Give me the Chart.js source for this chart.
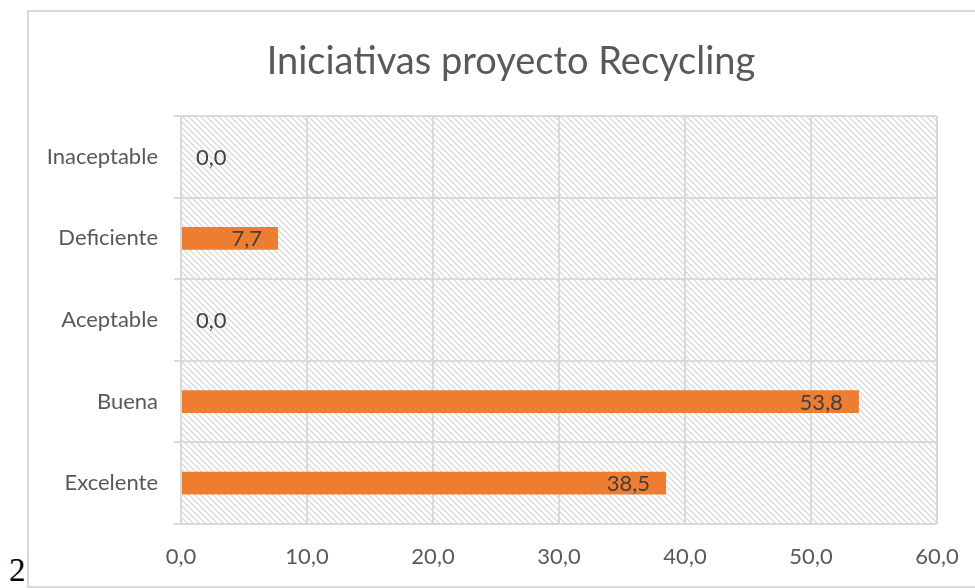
<!DOCTYPE html>
<html>
<head>
<meta charset="utf-8">
<script src="https://cdn.jsdelivr.net/npm/chart.js@4"></script>
<style>
    body { margin: 0; background: #fff; }
    #marco {
        position: absolute; left: 27px; top: 10px;
        width: 960px; height: 574px;
        border: 2px solid #d9d9d9;
    }
    #num {
        position: absolute; left: 9px; top: 554px;
        font-family: "Liberation Serif", "DejaVu Serif", serif; font-size: 33px; color: #000;
        line-height: 1;
    }
    #lienzo { position: absolute; left: 0; top: 0; }
</style>
</head>
<body>
<div id="marco"></div>
<span id="num">2</span>
<canvas id="lienzo" width="975" height="588"></canvas>
<script>
const categorias = ["Inaceptable", "Deficiente", "Aceptable", "Buena", "Excelente"];
const valores = [0.0, 7.7, 0.0, 53.8, 38.5];
const ticksX = [0, 10, 20, 30, 40, 50, 60];

const fuente = "Lato, 'Open Sans', sans-serif";

function crearTrama() {
    const c = document.createElement("canvas");
    c.width = 6;
    c.height = 6;
    const g = c.getContext("2d");
    g.fillStyle = "#fff";
    g.fillRect(0, 0, 6, 6);
    g.strokeStyle = "#d4d4d4";
    g.lineWidth = 1.2;
    g.beginPath();
    g.moveTo(-1, -1); g.lineTo(7, 7);
    g.moveTo(-1, 5); g.lineTo(1, 7);
    g.moveTo(5, -1); g.lineTo(7, 1);
    g.stroke();
    return g.createPattern(c, "repeat");
}

const fondoTrama = {
    id: "fondoTrama",
    afterLayout(chart) {
        // el titulo se centra sobre el marco del grafico, no sobre el lienzo
        if (chart.titleBlock) chart.titleBlock.left = 85;
    },
    beforeDraw(chart) {
        const a = chart.chartArea;
        const ctx = chart.ctx;
        ctx.save();
        ctx.fillStyle = crearTrama();
        ctx.fillRect(a.left, a.top, a.right - a.left, a.bottom - a.top);
        ctx.restore();
    }
};

// etiquetas de datos estilo Excel (extremo interno; los ceros quedan fuera)
const etiquetas = {
    id: "etiquetas",
    afterDatasetsDraw(chart) {
        const ctx = chart.ctx;
        const meta = chart.getDatasetMeta(0);
        ctx.save();
        ctx.font = "22px " + fuente;
        ctx.fillStyle = "#404040";
        ctx.textBaseline = "middle";
        meta.data.forEach((barra, i) => {
            const v = valores[i];
            const txt = v.toFixed(1).replace(".", ",");
            if (v > 0) {
                ctx.textAlign = "right";
                ctx.fillText(txt, barra.x - 16, barra.y + 1);
            } else {
                ctx.textAlign = "left";
                ctx.fillText(txt, barra.x + 15, barra.y + 1);
            }
        });
        ctx.restore();
    }
};

new Chart(document.getElementById("lienzo"), {
    type: "bar",
    data: {
        labels: categorias,
        datasets: [{
            data: valores,
            backgroundColor: "#ED7D31",
            barPercentage: 0.28,
            categoryPercentage: 1
        }]
    },
    options: {
        indexAxis: "y",
        responsive: false,
        animation: false,
        layout: { padding: { left: 0, right: 38, top: 0, bottom: 0 } },
        plugins: {
            legend: { display: false },
            tooltip: { enabled: false },
            title: {
                display: true,
                text: "Iniciativas proyecto Recycling",
                color: "#595959",
                font: { family: fuente, size: 38, weight: "normal" },
                padding: { top: 39, bottom: 31.4 }
            }
        },
        scales: {
            x: {
                min: 0,
                max: 60,
                afterBuildTicks: axis => { axis.ticks = ticksX.map(v => ({ value: v })); },
                afterFit: axis => {
                    axis.height = 64;
                    axis.paddingLeft = 0;
                    axis.paddingRight = 0;
                },
                grid: { color: "#d9d9d9", lineWidth: 2, drawTicks: false },
                border: { display: false },
                ticks: {
                    padding: 20,
                    color: "#595959",
                    font: { family: fuente, size: 22 },
                    callback: v => v.toFixed(1).replace(".", ",")
                }
            },
            y: {
                afterFit: axis => { axis.width = 181; },
                grid: { color: "#d9d9d9", lineWidth: 2, tickLength: 7, offset: true },
                border: { display: false },
                ticks: {
                    padding: 16,
                    color: "#595959",
                    font: { family: fuente, size: 22 }
                }
            }
        }
    },
    plugins: [fondoTrama, etiquetas]
});
</script>
</body>
</html>
